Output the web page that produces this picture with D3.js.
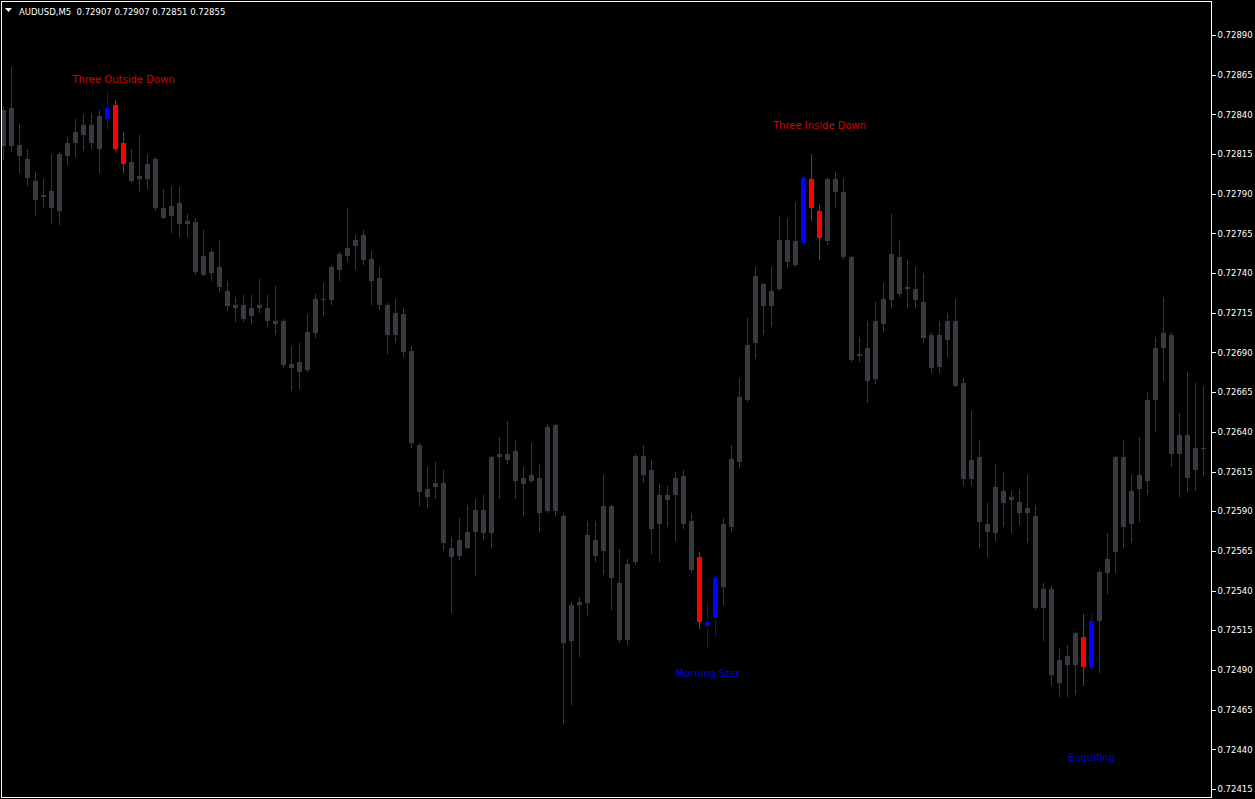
<!DOCTYPE html>
<html><head><meta charset="utf-8">
<script src="https://cdn.jsdelivr.net/npm/d3@7"></script>
<style>html,body{margin:0;padding:0;background:#000;overflow:hidden}</style>
</head><body><svg id="c" width="1255" height="799"></svg>
<script>
const symbolTitle = "AUDUSD,M5  0.72907 0.72907 0.72851 0.72855";

const open = [0.72820,0.72844,0.72821,0.72812,0.72798,0.72789,0.72781,0.72779,0.72814,0.72822,
0.72827,0.72833,0.72818,0.72837,0.72846,0.72822,0.72810,0.72799,0.72809,0.72812,
0.72781,0.72776,0.72784,0.72773,0.72772,0.72739,0.72753,0.72744,0.72729,0.72720,
0.72720,0.72713,0.72720,0.72718,0.72710,0.72710,0.72680,0.72678,0.72679,0.72702,
0.72723,0.72723,0.72742,0.72751,0.72757,0.72764,0.72749,0.72737,0.72720,0.72701,
0.72714,0.72691,0.72632,0.72604,0.72605,0.72608,0.72567,0.72562,0.72567,0.72577,
0.72591,0.72576,0.72624,0.72626,0.72628,0.72607,0.72609,0.72611,0.72590,0.72644,
0.72587,0.72508,0.72531,0.72532,0.72562,0.72593,0.72593,0.72545,0.72509,0.72558,
0.72625,0.72616,0.72582,0.72597,0.72600,0.72612,0.72584,0.72561,0.72518,0.72523,
0.72542,0.72580,0.72621,0.72660,0.72696,0.72733,0.72719,0.72730,0.72761,0.72745,
0.72759,0.72799,0.72779,0.72760,0.72799,0.72791,0.72750,0.72688,0.72693,0.72673,
0.72708,0.72723,0.72750,0.72730,0.72730,0.72722,0.72701,0.72681,0.72698,0.72710,
0.72671,0.72610,0.72624,0.72582,0.72576,0.72603,0.72599,0.72596,0.72592,0.72587,
0.72529,0.72541,0.72496,0.72493,0.72493,0.72511,0.72491,0.72521,0.72551,0.72564,
0.72624,0.72582,0.72604,0.72609,0.72660,0.72693,0.72701,0.72626,0.72638,0.72616,
0.72630];

const high = [0.72845,0.72870,0.72834,0.72818,0.72804,0.72799,0.72815,0.72816,0.72826,0.72837,
0.72840,0.72841,0.72843,0.72855,0.72849,0.72829,0.72818,0.72827,0.72815,0.72813,
0.72793,0.72795,0.72794,0.72777,0.72775,0.72767,0.72755,0.72761,0.72735,0.72725,
0.72726,0.72726,0.72736,0.72726,0.72732,0.72711,0.72694,0.72696,0.72714,0.72727,
0.72734,0.72745,0.72753,0.72781,0.72764,0.72767,0.72754,0.72744,0.72721,0.72724,
0.72718,0.72694,0.72633,0.72618,0.72621,0.72616,0.72574,0.72586,0.72594,0.72598,
0.72600,0.72625,0.72637,0.72647,0.72635,0.72618,0.72633,0.72620,0.72645,0.72645,
0.72589,0.72533,0.72536,0.72584,0.72584,0.72613,0.72594,0.72566,0.72560,0.72626,
0.72632,0.72622,0.72607,0.72606,0.72615,0.72616,0.72589,0.72564,0.72533,0.72549,
0.72586,0.72632,0.72674,0.72712,0.72744,0.72734,0.72744,0.72776,0.72775,0.72785,
0.72801,0.72815,0.72783,0.72800,0.72804,0.72800,0.72751,0.72700,0.72710,0.72722,
0.72734,0.72777,0.72761,0.72748,0.72744,0.72740,0.72703,0.72710,0.72715,0.72724,
0.72674,0.72653,0.72635,0.72595,0.72620,0.72615,0.72603,0.72604,0.72613,0.72594,
0.72545,0.72543,0.72504,0.72506,0.72514,0.72525,0.72526,0.72553,0.72576,0.72625,
0.72635,0.72613,0.72637,0.72665,0.72700,0.72725,0.72703,0.72652,0.72678,0.72671,
0.72669];

const low = [0.72811,0.72816,0.72803,0.72795,0.72776,0.72781,0.72771,0.72770,0.72808,0.72813,
0.72817,0.72818,0.72803,0.72830,0.72817,0.72803,0.72797,0.72791,0.72793,0.72779,
0.72774,0.72765,0.72763,0.72763,0.72739,0.72738,0.72735,0.72728,0.72716,0.72709,
0.72709,0.72708,0.72715,0.72706,0.72701,0.72680,0.72666,0.72667,0.72678,0.72699,
0.72713,0.72720,0.72735,0.72747,0.72742,0.72745,0.72720,0.72717,0.72689,0.72696,
0.72687,0.72630,0.72593,0.72592,0.72598,0.72565,0.72526,0.72559,0.72566,0.72549,
0.72572,0.72567,0.72598,0.72620,0.72598,0.72587,0.72608,0.72577,0.72589,0.72587,
0.72456,0.72468,0.72498,0.72524,0.72558,0.72550,0.72528,0.72507,0.72506,0.72556,
0.72608,0.72563,0.72558,0.72580,0.72571,0.72579,0.72551,0.72516,0.72504,0.72511,
0.72531,0.72577,0.72617,0.72659,0.72686,0.72701,0.72706,0.72729,0.72743,0.72744,
0.72758,0.72773,0.72748,0.72758,0.72781,0.72748,0.72684,0.72684,0.72658,0.72670,
0.72703,0.72718,0.72725,0.72718,0.72718,0.72696,0.72677,0.72677,0.72687,0.72668,
0.72606,0.72606,0.72567,0.72561,0.72571,0.72580,0.72576,0.72581,0.72570,0.72528,
0.72508,0.72480,0.72473,0.72473,0.72474,0.72480,0.72490,0.72488,0.72538,0.72551,
0.72567,0.72570,0.72583,0.72600,0.72640,0.72672,0.72618,0.72599,0.72602,0.72603,
0.72612];

const close = [0.72843,0.72820,0.72814,0.72800,0.72786,0.72788,0.72792,0.72815,0.72822,0.72829,
0.72833,0.72822,0.72839,0.72844,0.72818,0.72809,0.72798,0.72801,0.72799,0.72781,
0.72775,0.72782,0.72771,0.72771,0.72741,0.72751,0.72740,0.72731,0.72719,0.72718,
0.72711,0.72718,0.72718,0.72710,0.72708,0.72682,0.72683,0.72684,0.72703,0.72724,
0.72724,0.72744,0.72752,0.72756,0.72761,0.72748,0.72735,0.72720,0.72701,0.72715,
0.72690,0.72633,0.72602,0.72599,0.72608,0.72570,0.72561,0.72572,0.72577,0.72591,
0.72576,0.72624,0.72626,0.72622,0.72609,0.72611,0.72613,0.72589,0.72643,0.72590,
0.72507,0.72531,0.72533,0.72575,0.72572,0.72565,0.72548,0.72509,0.72557,0.72625,
0.72613,0.72579,0.72600,0.72600,0.72611,0.72582,0.72553,0.72520,0.72520,0.72548,
0.72582,0.72623,0.72662,0.72695,0.72738,0.72719,0.72729,0.72761,0.72747,0.72760,
0.72800,0.72781,0.72762,0.72799,0.72791,0.72750,0.72685,0.72689,0.72672,0.72710,
0.72724,0.72752,0.72727,0.72731,0.72723,0.72699,0.72680,0.72701,0.72710,0.72669,
0.72610,0.72622,0.72583,0.72577,0.72605,0.72595,0.72597,0.72589,0.72589,0.72529,
0.72541,0.72487,0.72482,0.72499,0.72513,0.72492,0.72521,0.72552,0.72560,0.72624,
0.72580,0.72603,0.72613,0.72660,0.72693,0.72702,0.72626,0.72638,0.72611,0.72630,
0.72629];

const priceTicks = [0.72890,0.72865,0.72840,0.72815,0.72790,0.72765,0.72740,0.72715,0.72690,0.72665,
0.72640,0.72615,0.72590,0.72565,0.72540,0.72515,0.72490,0.72465,0.72440,0.72415];

const patternNames = ["Three Outside Down","Three Inside Down","Morning Star","Engulfing"];
const patternStart = [13,100,87,135];
const patternEnd = [15,102,89,136];
const patternLabelBar = [15,102,88,136];
const patternLabelPrice = [0.72862,0.72833,0.72488,0.72435];
const patternBullish = [false,false,true,true];

const W = 1255, H = 799;
const svg = d3.select("#c");
svg.append("rect").attr("width",W).attr("height",H).attr("fill","#000");

const n = open.length;
const x = d3.scaleLinear().domain([0, n-1]).range([3, 1203]);
const y = d3.scaleLinear().domain([0.72415, 0.72890]).range([789, 35]);

const bars = d3.range(n).map(i => ({i, o:open[i], h:high[i], l:low[i], c:close[i]}));
const colorOf = i => {
  for (let p = 0; p < patternNames.length; p++) {
    if (i >= patternStart[p] && i <= patternEnd[p]) return close[i] >= open[i] ? "#0000ff" : "#ff0000";
  }
  return "#363a40";
};

const g = svg.append("g").attr("shape-rendering","crispEdges");
const cg = g.selectAll("g.bar").data(bars).join("g").attr("class","bar");
cg.append("rect")
  .attr("x", d => Math.round(x(d.i)))
  .attr("y", d => Math.round(y(d.h)))
  .attr("width", 1)
  .attr("height", d => Math.max(1, Math.round(y(d.l)) - Math.round(y(d.h))))
  .attr("fill", d => colorOf(d.i));
cg.append("rect")
  .attr("x", d => Math.round(x(d.i)) - 2)
  .attr("y", d => Math.round(y(Math.max(d.o, d.c))))
  .attr("width", 5)
  .attr("height", d => Math.max(1, Math.round(y(Math.min(d.o, d.c))) - Math.round(y(Math.max(d.o, d.c)))))
  .attr("fill", d => colorOf(d.i));

// pattern labels
svg.selectAll("text.pat").data(patternNames).join("text").attr("class","pat")
  .attr("x", (d,k) => Math.round(x(patternLabelBar[k])) + 0.5)
  .attr("y", (d,k) => y(patternLabelPrice[k]))
  .attr("dy","0.36em")
  .attr("text-anchor","middle")
  .attr("font-family","DejaVu Sans")
  .attr("font-size","10px")
  .attr("fill", (d,k) => patternBullish[k] ? "#0000dd" : "#dd0000")
  .text(d => d);

// frame
svg.append("rect").attr("x",1.5).attr("y",1.5).attr("width",1210).attr("height",796)
  .attr("fill","none").attr("stroke","#fff").attr("stroke-width",1).attr("shape-rendering","crispEdges");

// right price axis
const axis = d3.axisRight(y).tickValues(priceTicks).tickSize(4).tickPadding(2)
  .tickFormat(d3.format(".5f"));
const ag = svg.append("g").attr("transform","translate(1211.5,0)").call(axis);
ag.select(".domain").remove();
ag.selectAll(".tick line").attr("stroke","#fff").attr("shape-rendering","crispEdges");
ag.selectAll(".tick text").attr("fill","#fff").attr("font-family","DejaVu Sans").attr("font-size","8.5px");

// header
svg.append("rect").attr("x",2).attr("y",2).attr("width",226).attr("height",18).attr("fill","#000");
svg.append("path").attr("d","M5,8 L12,8 L8.5,12 Z").attr("fill","#fff");
svg.append("text").attr("x",19).attr("y",14.5).attr("fill","#fff")
  .attr("font-family","DejaVu Sans").attr("font-size","8.5px").attr("xml:space","preserve")
  .style("white-space","pre").text(symbolTitle);
</script></body></html>
